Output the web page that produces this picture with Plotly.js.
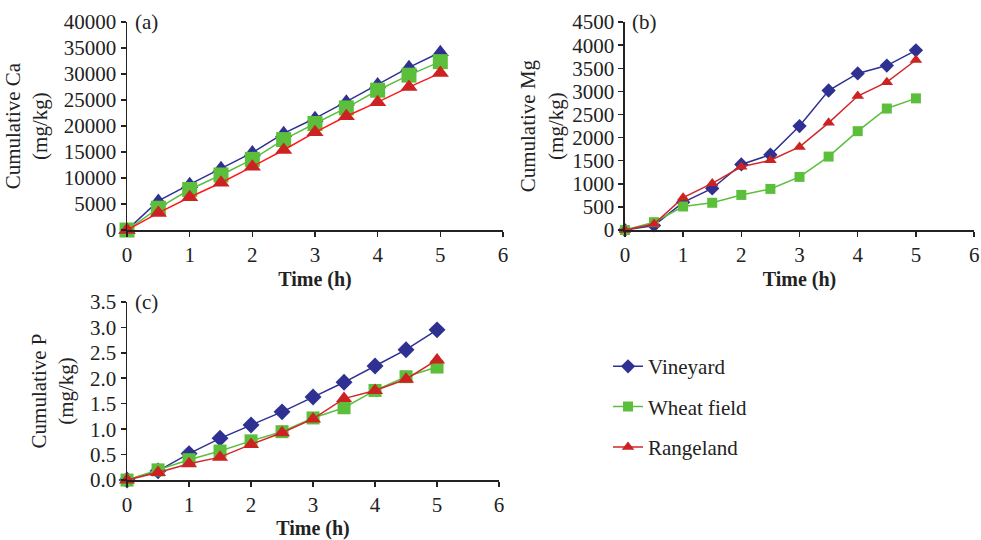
<!DOCTYPE html>
<html>
<head>
<meta charset="utf-8">
<script src="https://cdn.plot.ly/plotly-3.0.1.min.js"></script>
<style>html,body{margin:0;padding:0;background:#fff;}#chart{width:981px;height:540px;}</style>
</head>
<body>
<div id="chart"></div>
<script>
const time = [0, 0.5, 1, 1.5, 2, 2.5, 3, 3.5, 4, 4.5, 5];
const seriesNames = ["Vineyard", "Wheat field", "Rangeland"];

const caVineyard = [0, 5600, 8800, 11900, 14900, 18600, 21500, 24700, 28000, 31300, 34200];
const caWheat    = [0, 4200, 7800, 10600, 13600, 17400, 20500, 23500, 26900, 29800, 32400];
const caRange    = [0, 3300, 6300, 9100, 12200, 15400, 18800, 21900, 24600, 27500, 30200];

const mgVineyard = [0, 100, 600, 900, 1420, 1630, 2250, 3020, 3390, 3560, 3890];
const mgWheat    = [0, 170, 510, 590, 760, 890, 1150, 1590, 2140, 2630, 2850];
const mgRange    = [0, 130, 700, 1010, 1370, 1510, 1800, 2320, 2900, 3200, 3680];

const pVineyard = [0, 0.18, 0.52, 0.82, 1.08, 1.34, 1.63, 1.92, 2.24, 2.56, 2.95];
const pWheat    = [0, 0.20, 0.40, 0.57, 0.77, 0.95, 1.22, 1.42, 1.76, 2.03, 2.22];
const pRange    = [0, 0.15, 0.32, 0.45, 0.70, 0.93, 1.20, 1.60, 1.76, 1.98, 2.36];

const blue = "#2e3192", green = "#5cbf3c", redMk = "#cc2222";
const font = "Liberation Serif, Times New Roman, serif";

function tr(y, name, xa, ya, color, mcolor, symbol, size, show) {
  return {
    x: time, y: y, name: name, xaxis: xa, yaxis: ya, type: "scatter", mode: "lines+markers",
    line: {color: color, width: 1.5},
    marker: {color: mcolor, symbol: symbol, size: size, line: {width: 0}},
    cliponaxis: false, showlegend: show, legendgroup: name
  };
}

const data = [
  tr(caVineyard, seriesNames[0], "x", "y", blue, blue, "triangle-up", 15, false),
  tr(caWheat, seriesNames[1], "x", "y", green, green, "square", 15, false),
  tr(caRange, seriesNames[2], "x", "y", "#ff1a1a", redMk, "triangle-up", 15, false),
  tr(mgVineyard, seriesNames[0], "x2", "y2", blue, blue, "diamond", 11, true),
  tr(mgWheat, seriesNames[1], "x2", "y2", green, green, "square", 10, true),
  tr(mgRange, seriesNames[2], "x2", "y2", "#d02828", redMk, "triangle-up", 11, true),
  tr(pVineyard, seriesNames[0], "x3", "y3", blue, blue, "diamond", 13, false),
  tr(pWheat, seriesNames[1], "x3", "y3", green, green, "square", 13, false),
  tr(pRange, seriesNames[2], "x3", "y3", "#d02828", redMk, "triangle-up", 14, false)
];

function xax(dom, anchor) {
  return {
    domain: dom, anchor: anchor, range: [0, 6], dtick: 1, tick0: 0,
    showline: true, linecolor: "#222", linewidth: 1.5, ticks: "outside", ticklen: 5, tickwidth: 1.5, tickcolor: "#222",
    showgrid: false, zeroline: false, tickfont: {family: font, size: 21, color: "#222"},
    title: {text: "<b>Time (h)</b>", font: {family: font, size: 20, color: "#222"}, standoff: 6},
    automargin: false, fixedrange: true
  };
}
function yax(dom, anchor, range, dtick, fmt, title, standoff) {
  return {
    domain: dom, anchor: anchor, range: range, dtick: dtick, tick0: 0, tickformat: fmt,
    showline: true, linecolor: "#222", linewidth: 1.5, ticks: "outside", ticklen: 5, tickwidth: 1.5, tickcolor: "#222",
    showgrid: false, zeroline: false, tickfont: {family: font, size: 21, color: "#222"},
    title: {text: title, font: {family: font, size: 21, color: "#222"}, standoff: standoff},
    automargin: false, fixedrange: true
  };
}

const layout = {
  width: 981, height: 540,
  margin: {l: 0, r: 0, t: 0, b: 0},
  paper_bgcolor: "#fff", plot_bgcolor: "#fff",
  font: {family: font, color: "#222"},
  xaxis: xax([0.1295, 0.5127], "y"),
  yaxis: yax([0.574, 0.959], "x", [0, 40000], 5000, "d", "Cumulative Ca<br>(mg/kg)", 10),
  xaxis2: xax([0.637, 0.993], "y2"),
  yaxis2: yax([0.574, 0.959], "x2", [0, 4500], 500, "d", "Cumulative Mg<br>(mg/kg)", 3),
  xaxis3: xax([0.1295, 0.5087], "y3"),
  yaxis3: yax([0.111, 0.441], "x3", [0, 3.5], 0.5, ".1f", "Cumulative P<br>(mg/kg)", 10),
  showlegend: true,
  legend: {
    x: 0.6198, xanchor: "left", y: 0.359, yanchor: "top",
    font: {family: font, size: 21, color: "#222"},
    traceorder: "grouped", tracegroupgap: 10, bgcolor: "rgba(0,0,0,0)"
  },
  annotations: [
    {text: "(a)", xref: "x domain", yref: "y domain", x: 0.015, y: 1, xanchor: "left", yanchor: "middle", showarrow: false, font: {family: font, size: 21, color: "#222"}},
    {text: "(b)", xref: "x2 domain", yref: "y2 domain", x: 0.015, y: 1, xanchor: "left", yanchor: "middle", showarrow: false, font: {family: font, size: 21, color: "#222"}},
    {text: "(c)", xref: "x3 domain", yref: "y3 domain", x: 0.015, y: 1, xanchor: "left", yanchor: "middle", showarrow: false, font: {family: font, size: 21, color: "#222"}}
  ]
};

Plotly.newPlot("chart", data, layout, {displayModeBar: false, staticPlot: true});
</script>
</body>
</html>
